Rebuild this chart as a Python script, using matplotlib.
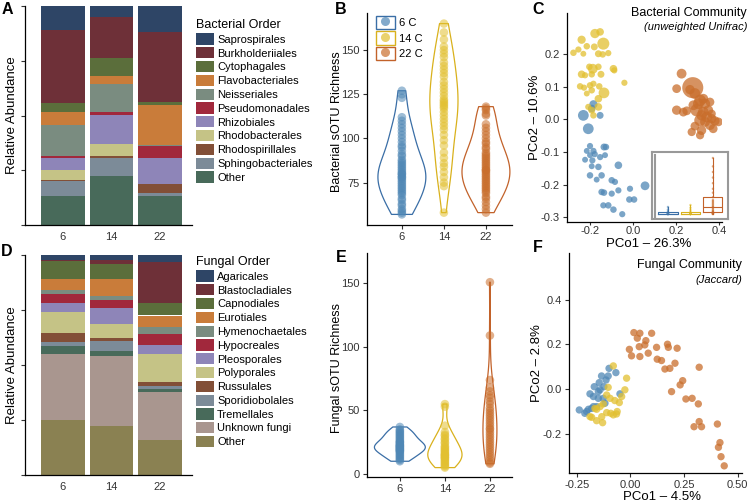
import matplotlib
matplotlib.use("Agg")
import matplotlib.pyplot as plt
import numpy as np
from matplotlib.patches import Patch
from matplotlib.lines import Line2D
from matplotlib.legend_handler import HandlerTuple

plt.rcParams['font.family'] = ['Liberation Sans', 'DejaVu Sans']
plt.rcParams['axes.unicode_minus'] = False

# ---- stacked bar data (bottom -> top order) ----
temps = ['6', '14', '22']

bact_orders = ['Other', 'Sphingobacteriales', 'Rhodospirillales', 'Rhodobacterales',
               'Rhizobiales', 'Pseudomonadales', 'Neisseriales', 'Flavobacteriales',
               'Cytophagales', 'Burkholderiiales', 'Saprospirales']
bact_6 = [0.133, 0.066, 0.006, 0.044, 0.058, 0.009, 0.141, 0.057, 0.043, 0.333, 0.110]
bact_14 = [0.222, 0.083, 0.009, 0.054, 0.133, 0.014, 0.130, 0.035, 0.083, 0.187, 0.052]
bact_22 = [0.133, 0.014, 0.038, 0.002, 0.118, 0.057, 0.002, 0.185, 0.011, 0.320, 0.125]

fung_orders = ['Other', 'Unknown fungi', 'Tremellales', 'Sporidiobolales', 'Russulales',
               'Polyporales', 'Pleosporales', 'Hypocreales', 'Hymenochaetales',
               'Eurotiales', 'Capnodiales', 'Blastocladiales', 'Agaricales']
fung_6 = [0.250, 0.300, 0.038, 0.018, 0.038, 0.096, 0.044, 0.040, 0.017, 0.049, 0.082, 0.006, 0.023]
fung_14 = [0.222, 0.321, 0.020, 0.047, 0.012, 0.064, 0.073, 0.038, 0.017, 0.076, 0.068, 0.018, 0.023]
fung_22 = [0.157, 0.222, 0.011, 0.014, 0.021, 0.123, 0.044, 0.050, 0.033, 0.050, 0.058, 0.186, 0.030]

# palette shared by both bar charts (top -> bottom as in legend)
pal = ['#2E4566', '#6E3038', '#5B6E3B', '#C97C3A', '#7A8C80', '#A1283C',
       '#8E85B8', '#C5C386', '#824F37', '#7C8B98', '#486A5A']
bact_cols = pal[::-1]
fung_cols = (pal[:10] + ['#486A5A', '#A9968F', '#8A8152'])[::-1]

# ---- richness (sOTU) ----
bact_rich_6 = [127, 125, 123, 112, 110, 108, 106, 104, 102, 100, 98, 96, 95, 93, 91, 90, 88, 87,
               86, 85, 84, 83, 82, 81, 80, 80, 79, 78, 78, 77, 76, 75, 74, 73, 72, 71, 70, 69,
               68, 66, 65, 63, 62, 60, 59, 58, 57]
bact_rich_14 = [165, 160, 156, 152, 150, 148, 146, 143, 141, 139, 137, 135, 132, 130, 128, 126,
                124, 122, 121, 120, 119, 118, 117, 115, 113, 111, 109, 107, 105, 102, 99, 96,
                92, 89, 86, 84, 81, 78, 75, 73, 58]
bact_rich_22 = [118, 117, 116, 114, 113, 108, 106, 104, 102, 100, 98, 97, 95, 94, 92, 91, 90, 89,
                88, 87, 86, 85, 84, 83, 82, 82, 81, 80, 79, 78, 77, 76, 75, 74, 73, 72, 71, 70,
                69, 67, 66, 64, 62, 60, 58]
fung_rich_6 = [37, 35, 34, 33, 32, 31, 30, 29, 28, 27, 26, 25, 25, 24, 23, 23, 22, 22, 21, 21,
               20, 20, 19, 19, 18, 18, 17, 16, 15, 14, 13, 12, 11, 10]
fung_rich_14 = [55, 53, 38, 33, 31, 30, 28, 27, 25, 24, 22, 21, 20, 19, 18, 17, 16, 15, 15, 14,
                13, 13, 12, 11, 10, 9, 8, 7, 6, 5]
fung_rich_22 = [151, 109, 74, 68, 65, 62, 60, 57, 55, 52, 50, 48, 46, 44, 42, 40, 38, 36, 35, 33,
                31, 29, 27, 25, 23, 21, 19, 17, 15, 13, 11, 9, 8]

# ---- PCoA bacterial (unweighted Unifrac) ----
c_x_6 = [-0.231, -0.184, -0.192, -0.153, -0.208, -0.200, -0.184, -0.215, -0.135, -0.126, -0.178,
         -0.200, -0.223, -0.153, -0.130, -0.189, -0.161, -0.192, -0.068, -0.200, -0.146, -0.099,
         -0.084, -0.014, 0.056, -0.068, -0.146, -0.135, -0.099, -0.017, 0.005, -0.138, -0.115,
         -0.091, -0.050, -0.169]
c_y_6 = [0.012, 0.046, 0.033, 0.012, -0.029, -0.082, -0.097, -0.097, -0.085, -0.085, -0.107,
         -0.110, -0.124, -0.116, -0.110, -0.126, -0.146, -0.144, -0.141, -0.172, -0.172, -0.187,
         -0.192, -0.213, -0.204, -0.218, -0.223, -0.225, -0.228, -0.246, -0.246, -0.264, -0.264,
         -0.277, -0.291, -0.185]
c_s_6 = [60, 35, 30, 25, 60, 20, 20, 18, 25, 22, 20, 18, 18, 20, 18, 20, 22, 18, 30, 22, 22, 22,
         20, 20, 40, 20, 22, 22, 20, 22, 22, 20, 22, 22, 20, 18]
c_x_14 = [-0.177, -0.153, -0.239, -0.277, -0.254, -0.231, -0.215, -0.180, -0.138, -0.161, -0.141,
          -0.115, -0.203, -0.187, -0.161, -0.091, -0.087, -0.239, -0.223, -0.192, -0.149, -0.040,
          -0.246, -0.228, -0.200, -0.184, -0.157, -0.135, -0.161, -0.192, -0.161, -0.192, -0.208,
          -0.184, -0.215]
c_y_14 = [0.263, 0.268, 0.244, 0.204, 0.214, 0.201, 0.224, 0.222, 0.232, 0.201, 0.199, 0.203,
          0.161, 0.155, 0.161, 0.155, 0.150, 0.138, 0.135, 0.138, 0.138, 0.112, 0.101, 0.097,
          0.104, 0.109, 0.101, 0.081, 0.063, 0.089, 0.038, 0.028, 0.038, 0.012, 0.079]
c_s_14 = [45, 30, 35, 22, 20, 18, 22, 25, 75, 25, 22, 20, 22, 50, 22, 30, 20, 30, 20, 22, 25, 20,
          22, 20, 22, 20, 22, 60, 30, 22, 30, 25, 20, 22, 18]
c_x_22 = [0.226, 0.278, 0.203, 0.265, 0.288, 0.327, 0.312, 0.304, 0.335, 0.358, 0.281, 0.203,
          0.250, 0.296, 0.327, 0.350, 0.319, 0.343, 0.366, 0.312, 0.335, 0.381, 0.397, 0.358,
          0.288, 0.319, 0.373, 0.312, 0.273, 0.234, 0.366]
c_y_22 = [0.140, 0.097, 0.094, 0.091, 0.079, 0.063, 0.058, 0.048, 0.048, 0.053, 0.043, 0.028,
          0.026, 0.028, 0.022, 0.028, 0.012, 0.007, 0.002, -0.003, -0.008, -0.005, -0.008, -0.018,
          -0.021, -0.034, -0.029, -0.049, -0.039, 0.022, 0.017]
c_s_22 = [50, 230, 40, 45, 60, 50, 70, 60, 55, 40, 50, 45, 40, 80, 60, 50, 55, 60, 45, 70, 50, 45,
          40, 50, 40, 45, 40, 35, 35, 40, 35]

# inset (scaled values) in panel C
inset_6 = [0, 0, 0, 0, 0, 0, 0, 0, 0.01, 0.02, 0.03, 0.05, 0.08, 0.125]
inset_14 = [0, 0, 0, 0, 0, 0, 0, 0, 0.01, 0.02, 0.04, 0.07, 0.11, 0.16]
inset_22 = [0, 0, 0, 0.01, 0.01, 0.02, 0.02, 0.03, 0.04, 0.05, 0.06, 0.08, 0.10, 0.12, 0.13,
            0.15, 0.17, 0.19, 0.21, 0.23, 0.25, 0.30, 0.38, 0.45, 0.55, 0.65, 0.75, 0.85, 1.0]

# ---- PCoA fungal (Jaccard) ----
f_x_6 = [-0.239, -0.205, -0.213, -0.196, -0.189, -0.169, -0.173, -0.173, -0.146, -0.135, -0.124,
         -0.150, -0.142, -0.114, -0.104, -0.100, -0.127, -0.119, -0.150, -0.068, -0.049, -0.158,
         -0.181]
f_y_6 = [-0.094, -0.101, -0.109, -0.091, -0.022, 0.010, -0.034, -0.079, 0.028, 0.058, 0.010,
         -0.042, -0.004, 0.040, 0.058, 0.092, -0.042, -0.064, -0.012, 0.073, -0.022, -0.079, -0.087]
f_x_14 = [-0.080, -0.104, -0.018, -0.026, -0.052, -0.073, -0.095, -0.111, -0.127, -0.142, -0.158,
          -0.166, -0.189, -0.181, -0.158, -0.130, -0.065, -0.080, -0.111, -0.092, -0.062, -0.134,
          -0.041]
f_y_14 = [0.103, 0.007, 0.048, -0.004, -0.061, -0.052, -0.042, -0.027, -0.067, -0.079, -0.091,
          -0.087, -0.124, -0.127, -0.142, -0.151, -0.112, -0.116, -0.106, -0.109, -0.101, -0.124,
          -0.034]
f_x_22 = [-0.005, 0.016, 0.032, 0.044, 0.041, 0.044, 0.072, 0.067, 0.083, 0.099, 0.005, 0.122,
          0.125, 0.145, 0.173, 0.177, 0.161, 0.184, 0.208, 0.218, 0.244, 0.232, 0.192, 0.259,
          0.288, 0.317, 0.321, 0.297, 0.321, 0.332, 0.406, 0.418, 0.411, 0.423, 0.438]
f_y_22 = [0.177, 0.252, 0.227, 0.249, 0.189, 0.145, 0.216, 0.197, 0.160, 0.249, 0.148, 0.186,
          0.133, 0.127, 0.200, 0.186, 0.089, 0.092, 0.115, 0.182, 0.037, 0.018, -0.012, -0.045,
          -0.042, -0.067, 0.097, -0.169, -0.146, -0.169, -0.157, -0.240, -0.261, -0.303, -0.344]

blue, yellow, orange = '#4F87B5', '#E2C030', '#C96E2C'
blue_e, yellow_e, orange_e = '#3A6EA6', '#D9B11C', '#C2622A'
txt = '#333333'

W, H = 749, 504
fig = plt.figure(figsize=(W / 100, H / 100), dpi=100)


def px_axes(l, t, r, b):
    return fig.add_axes([l / W, 1 - b / H, (r - l) / W, (b - t) / H])


def classic(ax):
    for s in ['top', 'right']:
        ax.spines[s].set_visible(False)
    for s in ['left', 'bottom']:
        ax.spines[s].set_linewidth(0.9)
    ax.tick_params(direction='out', length=3, width=0.8, color=txt,
                   labelcolor=txt, labelsize=8, pad=2)


def stacked(ax, cols, series):
    pos = np.arange(1, 4)
    mat = np.array(series)
    bottom = np.zeros(3)
    for i in range(mat.shape[1]):
        ax.bar(pos, mat[:, i], bottom=bottom, width=0.9, color=cols[i], edgecolor='none')
        bottom += mat[:, i]
    ax.set_xlim(0.22, 3.66)
    ax.set_ylim(0, 1.0)
    ax.set_xticks(pos)
    ax.set_xticklabels(temps)
    ax.set_yticks([0, 0.25, 0.5, 0.75, 1.0])
    ax.set_yticklabels([])
    classic(ax)
    ax.tick_params(axis='x', length=0, pad=5)


# A
axA = px_axes(25, 6, 192, 225)
stacked(axA, bact_cols, [bact_6, bact_14, bact_22])
fig.text(12 / W, 1 - 115 / H, 'Relative Abundance', rotation=90, ha='center', va='center', fontsize=9.5)
hA = [Patch(facecolor=c, edgecolor='none') for c in bact_cols[::-1]]
legA = fig.legend(hA, bact_orders[::-1], title='Bacterial Order', loc='upper left',
                  bbox_to_anchor=(196 / W, 1 - 19 / H), frameon=False, fontsize=8,
                  title_fontsize=9, handlelength=1.6, handleheight=1.17, labelspacing=0.22,
                  handletextpad=0.3, borderpad=0, borderaxespad=0, alignment='left')

# D
axD = px_axes(25, 255, 192, 475)
stacked(axD, fung_cols, [fung_6, fung_14, fung_22])
fig.text(12 / W, 1 - 365 / H, 'Relative Abundance', rotation=90, ha='center', va='center', fontsize=9.5)
hD = [Patch(facecolor=c, edgecolor='none') for c in fung_cols[::-1]]
legD = fig.legend(hD, fung_orders[::-1], title='Fungal Order', loc='upper left',
                  bbox_to_anchor=(196 / W, 1 - 256 / H), frameon=False, fontsize=8,
                  title_fontsize=9, handlelength=1.6, handleheight=1.17, labelspacing=0.22,
                  handletextpad=0.3, borderpad=0, borderaxespad=0, alignment='left')


def violins(ax, groups, widths):
    pos = [1, 2, 3]
    parts = ax.violinplot(groups, positions=pos, widths=widths, showextrema=False,
                          bw_method='silverman')
    for body, ec in zip(parts['bodies'], [blue_e, yellow_e, orange_e]):
        body.set_facecolor('none')
        body.set_edgecolor(ec)
        body.set_linewidth(0.9)
        body.set_alpha(1)
    for p, g, c in zip(pos, groups, [blue, yellow, orange]):
        ax.scatter(np.full(len(g), p), g, s=38, color=c, alpha=0.55, edgecolor='none', zorder=3)
    ax.set_xticks(pos)
    ax.set_xticklabels(temps)
    classic(ax)


# B
axB = px_axes(367, 13, 512, 225)
violins(axB, [bact_rich_6, bact_rich_14, bact_rich_22], [1.14, 0.67, 1.14])
axB.set_xlim(0.17, 3.62)
axB.set_ylim(51, 171)
axB.set_yticks([75, 100, 125, 150])
fig.text(337 / W, 1 - 122 / H, 'Bacterial sOTU Richness', rotation=90, ha='center', va='center', fontsize=9)
hB = [(Patch(facecolor='none', edgecolor=e, linewidth=1.0),
       Line2D([], [], ls='', marker='o', markersize=6.5, markerfacecolor=c,
              markeredgecolor='none', alpha=0.7))
      for c, e in zip([blue, yellow, orange], [blue_e, yellow_e, orange_e])]
axB.legend(hB, ['6 C', '14 C', '22 C'], handler_map={tuple: HandlerTuple(ndivide=1)},
           loc='upper left', bbox_to_anchor=(376 / W, 1 - 16 / H), bbox_transform=fig.transFigure,
           frameon=False, fontsize=8, handlelength=1.7, handleheight=1.45, labelspacing=0.2,
           handletextpad=0.35, borderpad=0, borderaxespad=0)

# E
axE = px_axes(367, 253, 512, 477)
violins(axE, [fung_rich_6, fung_rich_14, fung_rich_22], [1.13, 0.76, 0.31])
axE.set_xlim(0.27, 3.49)
axE.set_ylim(-2.4, 174)
axE.set_yticks([0, 50, 100, 150])
fig.text(337 / W, 1 - 368 / H, 'Fungal sOTU Richness', rotation=90, ha='center', va='center', fontsize=9)

# C
axC = px_axes(567, 13, 722, 222)
for xs, ys, ss, c in [(c_x_6, c_y_6, c_s_6, blue), (c_x_14, c_y_14, c_s_14, yellow),
                      (c_x_22, c_y_22, c_s_22, orange)]:
    axC.scatter(xs, ys, s=ss, color=c, alpha=0.75, edgecolor='none')
axC.set_xlim(-0.307, 0.414)
axC.set_ylim(-0.315, 0.326)
axC.set_xticks([-0.2, 0, 0.2, 0.4])
axC.set_xticklabels(['-0.2', '0.0', '0.2', '0.4'])
axC.set_yticks([-0.3, -0.2, -0.1, 0, 0.1, 0.2])
axC.set_yticklabels(['-0.3', '-0.2', '-0.1', '0.0', '0.1', '0.2'])
classic(axC)
axC.tick_params(axis='x', length=2, pad=1)
fig.text(649 / W, 1 - 244 / H, 'PCo1 \u2013 26.3%', ha='center', va='center', fontsize=9.5)
fig.text(535 / W, 1 - 117 / H, 'PCo2 \u2013 10.6%', rotation=90, ha='center', va='center', fontsize=9.5)
fig.text(747 / W, 1 - 13 / H, 'Bacterial Community', ha='right', va='center', fontsize=9)
fig.text(747 / W, 1 - 27 / H, '(unweighted Unifrac)', ha='right', va='center', fontsize=8, style='italic')

ins = px_axes(652, 152, 728, 219)
ins.set_facecolor('white')
bp = ins.boxplot([inset_6, inset_14, inset_22], positions=[1, 2, 3], widths=0.85,
                 whis=(0, 100), showfliers=False, showcaps=False)
for i, c in enumerate([blue_e, yellow_e, orange_e]):
    for key in ['boxes', 'medians']:
        bp[key][i].set_color(c)
        bp[key][i].set_linewidth(0.8)
    for w in bp['whiskers'][2 * i:2 * i + 2]:
        w.set_color(c)
        w.set_linewidth(0.8)
for p, g, c in zip([1, 2, 3], [inset_6, inset_14, inset_22], [blue, yellow, orange]):
    ins.scatter(np.full(len(g), p), g, s=3, color=c, alpha=0.6, edgecolor='none')
ins.set_xlim(0.29, 3.67)
ins.set_ylim(-0.09, 1.107)
ins.axvline(0.42, ymin=0.03, ymax=0.955, color='#999999', lw=1.5)
ins.set_xticks([])
ins.set_yticks([])
for s in ins.spines.values():
    s.set_color('#999999')
    s.set_linewidth(1.5)

# F
axF = px_axes(569, 253, 742, 473)
for xs, ys, c in [(f_x_6, f_y_6, blue), (f_x_14, f_y_14, yellow), (f_x_22, f_y_22, orange)]:
    axF.scatter(xs, ys, s=28, color=c, alpha=0.75, edgecolor='none')
axF.set_xlim(-0.287, 0.521)
axF.set_ylim(-0.376, 0.608)
axF.set_xticks([-0.25, 0, 0.25, 0.5])
axF.set_xticklabels(['-0.25', '0.00', '0.25', '0.50'])
axF.set_yticks([-0.2, 0, 0.2, 0.4])
axF.set_yticklabels(['-0.2', '0.0', '0.2', '0.4'])
classic(axF)
fig.text(662 / W, 1 - 497 / H, 'PCo1 \u2013 4.5%', ha='center', va='center', fontsize=9.5)
fig.text(537 / W, 1 - 363 / H, 'PCo2 \u2013 2.8%', rotation=90, ha='center', va='center', fontsize=9.5)
fig.text(742 / W, 1 - 265 / H, 'Fungal Community', ha='right', va='center', fontsize=9)
fig.text(742 / W, 1 - 280 / H, '(Jaccard)', ha='right', va='center', fontsize=8, style='italic')

# panel letters
for lab, x, y in [('A', 7, 9), ('B', 341, 9), ('C', 538, 10), ('D', 7, 252), ('E', 341, 257), ('F', 538, 248)]:
    fig.text(x / W, 1 - y / H, lab, ha='center', va='center', fontsize=11.5, fontweight='bold')

fig.savefig('out.png', dpi=100)
